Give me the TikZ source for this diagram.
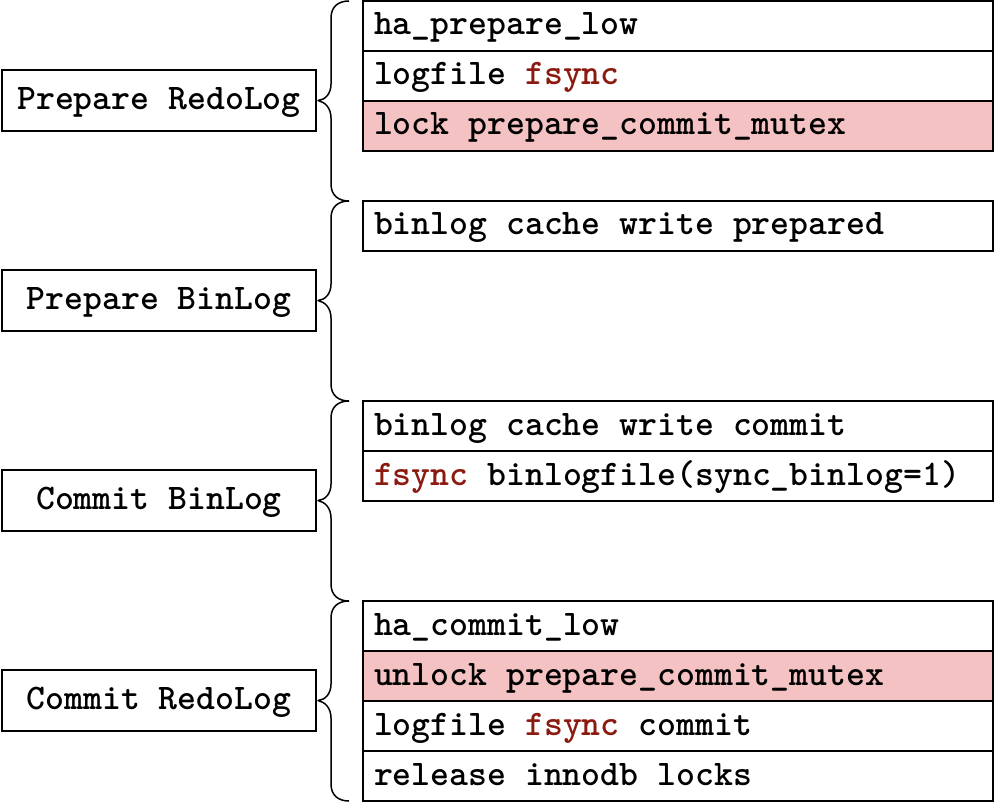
\documentclass[tikz,border=0pt]{standalone}
\begin{document}
\definecolor{hot}{HTML}{8B1A10}
\definecolor{lockfill}{HTML}{F4C2C2}
\begin{tikzpicture}[x=1pt,y=-1pt,
  every node/.style={font=\fontsize{36}{40}\selectfont\ttfamily\bfseries,
                     execute at begin node={\spaceskip=0.525em\relax},
                     outer sep=0pt, text height=26pt, text depth=8pt},
  stage/.style={draw, line width=2pt, minimum width=314pt, minimum height=61pt, inner sep=0pt, anchor=north west},
  rowbox/.style={draw, line width=2pt, minimum width=630pt, minimum height=50pt, inner xsep=11pt, inner ysep=0pt,
                 text width=608pt, align=left, anchor=north west},
  locked/.style={rowbox, fill=lockfill},
  brace/.style={line width=1.5pt, line join=round}]
\useasboundingbox (0,0) rectangle (996,802);
\newcommand{\hot}[1]{\textcolor{hot}{#1}}

% step rows
\node[rowbox] (a1) at (363,1)   {ha\_prepare\_low};
\node[rowbox] (a2) at (363,51)  {logfile \hot{fsync}};
\node[locked] (a3) at (363,101) {lock prepare\_commit\_mutex};
\node[rowbox] (b1) at (363,201) {binlog cache write prepared};
\node[rowbox] (c1) at (363,401) {binlog cache write commit};
\node[rowbox] (c2) at (363,451) {\hot{fsync} binlogfile(sync\_binlog=1)};
\node[rowbox] (d1) at (363,601) {ha\_commit\_low};
\node[locked] (d2) at (363,651) {unlock prepare\_commit\_mutex};
\node[rowbox] (d3) at (363,701) {logfile \hot{fsync} commit};
\node[rowbox] (d4) at (363,751) {release innodb locks};

% phase labels
\node[stage] (pr) at (2,70)  {Prepare RedoLog};
\node[stage] (pb) at (2,270) {Prepare BinLog};
\node[stage] (cb) at (2,470) {Commit BinLog};
\node[stage] (cr) at (2,670) {Commit RedoLog};

% curly braces from each label to its group of steps
\foreach \n/\t in {pr/1, pb/201, cb/401, cr/601}{
  \coordinate (tip-\n) at ([xshift=2pt]\n.east);
  \draw[brace] (349,\t)
    .. controls (338,\t) and (331,\t+6) .. (331,\t+17)
    -- (331,\t+83)
    .. controls (331,\t+93) and (325,\t+99) .. (tip-\n)
    .. controls (325,\t+101) and (331,\t+107) .. (331,\t+117)
    -- (331,\t+183)
    .. controls (331,\t+194) and (338,\t+200) .. (349,\t+200);
}
\end{tikzpicture}
\end{document}
